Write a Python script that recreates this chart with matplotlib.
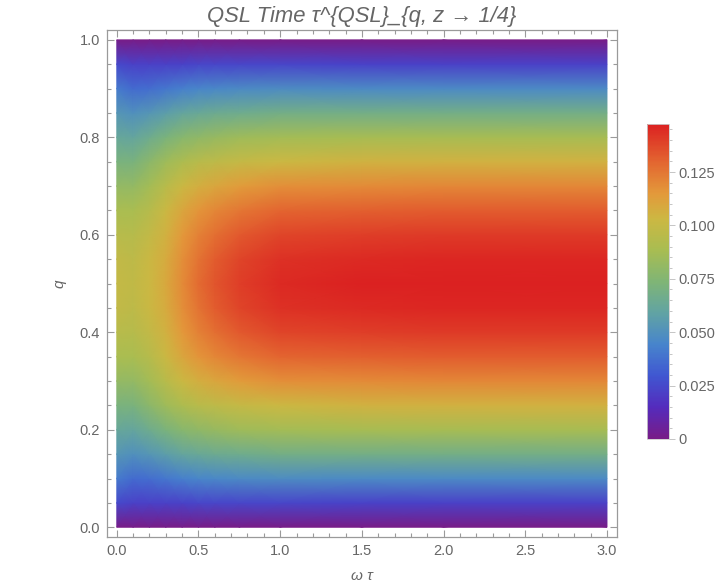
import numpy as np
import matplotlib
matplotlib.use("Agg")
import matplotlib.pyplot as plt
from matplotlib.colors import LinearSegmentedColormap, Normalize
from matplotlib.ticker import MultipleLocator, FixedLocator

plt.rcParams['font.family'] = ['Liberation Sans', 'DejaVu Sans']

# omega*tau sample columns
wt = [0.0, 0.1, 0.2, 0.3, 0.4, 0.5, 0.6, 0.75, 1.0, 1.5, 2.0, 3.0]
# q from 0 to 0.5 (the field is mirror-symmetric about q = 0.5)
q_half = [0.0, 0.05, 0.1, 0.15, 0.2, 0.25, 0.3, 0.35, 0.4, 0.45, 0.5]

# tau_QSL, one list per omega*tau column (q = 0 ... 0.5)
tau_cols = [
    [0, 0.025, 0.041, 0.053, 0.062, 0.071, 0.081, 0.089, 0.095, 0.099, 0.100],
    [0, 0.022, 0.036, 0.050, 0.061, 0.071, 0.081, 0.089, 0.094, 0.097, 0.098],
    [0, 0.022, 0.037, 0.053, 0.066, 0.078, 0.087, 0.094, 0.099, 0.102, 0.103],
    [0, 0.022, 0.040, 0.057, 0.072, 0.085, 0.095, 0.102, 0.106, 0.108, 0.109],
    [0, 0.023, 0.043, 0.061, 0.077, 0.090, 0.102, 0.110, 0.115, 0.118, 0.119],
    [0, 0.024, 0.045, 0.063, 0.080, 0.095, 0.107, 0.116, 0.122, 0.126, 0.128],
    [0, 0.024, 0.046, 0.065, 0.082, 0.097, 0.110, 0.120, 0.127, 0.132, 0.134],
    [0, 0.024, 0.047, 0.066, 0.085, 0.100, 0.114, 0.125, 0.133, 0.138, 0.140],
    [0, 0.024, 0.048, 0.068, 0.087, 0.103, 0.118, 0.130, 0.138, 0.143, 0.145],
    [0, 0.023, 0.047, 0.068, 0.088, 0.105, 0.119, 0.131, 0.140, 0.145, 0.147],
    [0, 0.022, 0.047, 0.068, 0.088, 0.106, 0.120, 0.132, 0.141, 0.146, 0.147],
    [0, 0.022, 0.047, 0.068, 0.088, 0.106, 0.120, 0.132, 0.141, 0.146, 0.147],
]

cbar_ticks = [0, 0.025, 0.05, 0.075, 0.1, 0.125]
cbar_labels = ["0", "0.025", "0.050", "0.075", "0.100", "0.125"]

# Mathematica-like "Rainbow" gradient
rainbow = LinearSegmentedColormap.from_list("rainbow_mma", [
    (0.00, (0.47, 0.11, 0.53)),
    (0.10, (0.33, 0.17, 0.74)),
    (0.20, (0.25, 0.34, 0.82)),
    (0.30, (0.28, 0.52, 0.80)),
    (0.40, (0.38, 0.64, 0.64)),
    (0.50, (0.50, 0.71, 0.46)),
    (0.60, (0.66, 0.74, 0.32)),
    (0.70, (0.80, 0.72, 0.26)),
    (0.78, (0.89, 0.60, 0.23)),
    (0.88, (0.89, 0.40, 0.19)),
    (1.00, (0.86, 0.13, 0.13)),
])

q = np.array(q_half + [1 - v for v in q_half[-2::-1]])
Z = np.array([c + c[-2::-1] for c in tau_cols]).T
W, Q = np.meshgrid(wt, q)

fig = plt.figure(figsize=(7.18, 5.86), dpi=100)
ax = fig.add_axes([0.149, 0.0836, 0.710, 0.865])
norm = Normalize(vmin=0, vmax=0.1475)
mesh = ax.pcolormesh(W, Q, Z, cmap=rainbow, norm=norm, shading='gouraud')

ax.set_xlim(-0.06, 3.06)
ax.set_ylim(-0.02, 1.02)

frame_col = '#9a9a9a'
text_col = '#666666'
for s in ax.spines.values():
    s.set_color(frame_col)
    s.set_linewidth(0.9)
ax.xaxis.set_major_locator(MultipleLocator(0.5))
ax.xaxis.set_minor_locator(MultipleLocator(0.1))
ax.yaxis.set_major_locator(MultipleLocator(0.2))
ax.yaxis.set_minor_locator(MultipleLocator(0.05))
ax.xaxis.set_major_formatter(lambda v, p: f"{v:.1f}")
ax.yaxis.set_major_formatter(lambda v, p: f"{v:.1f}")
ax.tick_params(which='both', direction='in', top=True, right=True,
               color=frame_col, labelcolor=text_col, labelsize=10.5, width=0.8)
ax.tick_params(which='major', length=5, pad=5)
ax.tick_params(which='minor', length=2.8)

ax.set_title("QSL Time τ^{QSL}_{q, z → 1/4}", fontsize=15.8, style='italic',
             color=text_col, pad=6)
ax.set_xlabel("ω τ", fontsize=11, style='italic', color=text_col)
ax.set_ylabel("q", fontsize=11, style='italic', color=text_col)
ax.xaxis.set_label_coords(0.5, -0.064)
ax.yaxis.set_label_coords(-0.080, 0.5)

cax = fig.add_axes([0.901, 0.2509, 0.0306, 0.5375])
cb = fig.colorbar(mesh, cax=cax)
cb.outline.set_edgecolor('#cccccc')
cb.outline.set_linewidth(0.6)
cb.set_ticks(cbar_ticks)
cb.set_ticklabels(cbar_labels)
cax.yaxis.set_minor_locator(FixedLocator(np.arange(0, 0.1475, 0.005)))
cax.tick_params(which='both', color='#bbbbbb', labelcolor=text_col,
                labelsize=10.5, width=0.6)
cax.tick_params(which='major', length=4, pad=3)
cax.tick_params(which='minor', length=2)

fig.savefig("out.png", dpi=100)
